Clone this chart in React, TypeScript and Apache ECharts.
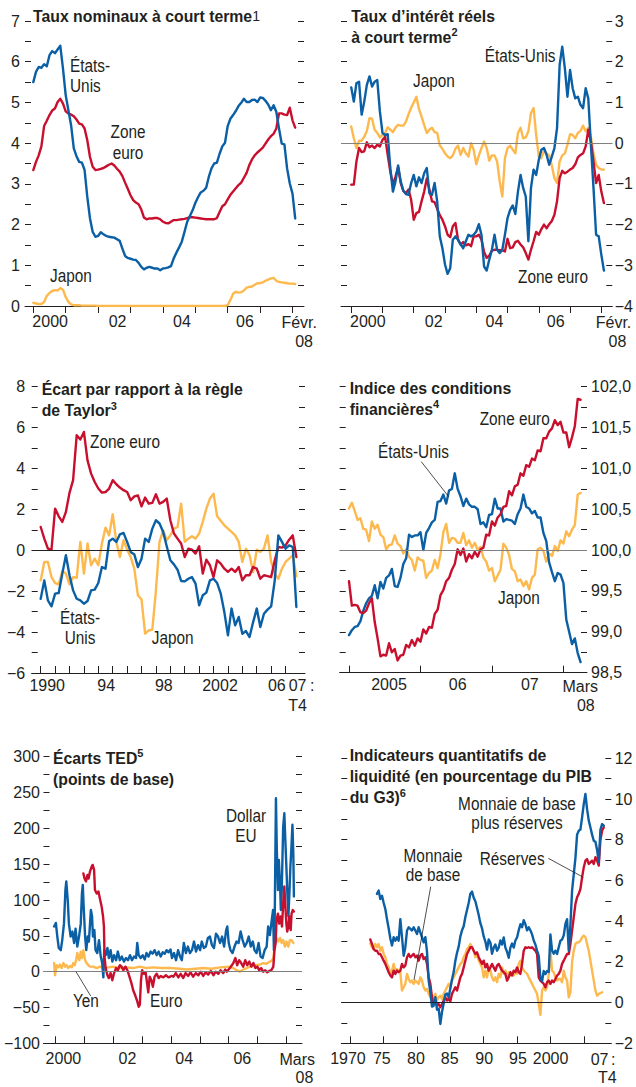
import React, { useEffect, useRef } from "react";
import * as echarts from "echarts";

const INK = "#231f20";
const BLUE = "#0b5fa5";
const RED = "#c8102e";
const ORANGE = "#fdb94e";
const GRAY = "#808080";
const TICK_FONT = "'Liberation Sans', Arial, sans-serif";
const LINE_W = 2.4;

// ---------- Panel 1: nominal short-term rates (monthly from Jan 2000) ----------
const p1Start = 2000;
const p1US = [5.50,5.75,5.87,5.85,5.94,5.89,6.16,6.26,6.21,6.30,6.39,5.83,5.18,4.81,4.44,3.87,3.68,3.54,3.52,3.34,2.68,2.15,1.82,1.70,1.72,1.81,1.76,1.72,1.70,1.69,1.68,1.64,1.60,1.41,1.23,1.18,1.16,1.14,1.13,1.06,0.96,0.90,0.94,0.96,0.94,0.92,0.92,0.88,0.92,0.93,0.95,0.98,1.17,1.31,1.44,1.58,1.82,2.07,2.21,2.35,2.53,2.67,2.79,2.83,2.90,3.17,3.38,3.50,3.52,3.74,3.92,4.01,4.42,4.60,4.69,4.79,4.91,4.99,5.09,5.01,5.01,5.06,5.07,5.01,5.12,5.11,5.04,4.95,4.81,4.93,4.77,4.36,3.99,3.97,3.38,3.01,2.76,2.15];
const p1Euro = [3.34,3.54,3.70,3.92,4.42,4.55,4.69,4.80,4.85,5.01,5.09,4.97,4.78,4.73,4.70,4.66,4.58,4.48,4.46,4.36,4.07,3.66,3.42,3.34,3.35,3.37,3.39,3.43,3.47,3.50,3.45,3.37,3.30,3.19,3.03,2.88,2.72,2.60,2.54,2.50,2.37,2.17,2.13,2.15,2.15,2.16,2.16,2.13,2.07,2.04,2.03,2.07,2.11,2.11,2.12,2.13,2.14,2.16,2.18,2.18,2.17,2.16,2.15,2.14,2.13,2.13,2.13,2.13,2.16,2.31,2.45,2.50,2.62,2.73,2.81,2.89,2.97,3.03,3.15,3.27,3.46,3.60,3.70,3.77,3.83,3.89,3.99,4.09,4.17,4.23,4.36,4.73,4.73,4.70,4.69,4.87,4.56,4.38];
const p1Japan = [0.08,0.06,0.05,0.05,0.10,0.25,0.32,0.37,0.39,0.38,0.44,0.40,0.22,0.10,0.04,0.02,0.02,0.02,0.01,0.01,0.01,0.01,0.01,0.01,0,0,0,0,0,0,0,0,0,0,0,0,0,0,0,0,0,0,0,0,0,0,0,0,0,0,0,0,0,0,0,0,0,0,0,0,0,0,0,0,0,0,0,0,0,0,0,0,0.02,0.15,0.30,0.35,0.33,0.34,0.38,0.45,0.47,0.48,0.52,0.56,0.56,0.58,0.62,0.65,0.68,0.69,0.62,0.59,0.58,0.57,0.56,0.55,0.55,0.54];

// ---------- Panel 2: real short-term rates (monthly from Jan 2000) ----------
const p2Start = 2000;
const p2US = [1.37,1.02,1.47,1.51,0.70,1.02,1.43,1.64,1.39,1.51,1.55,0.78,0.25,0.20,0.22,-0.61,-1.19,-0.94,-0.55,-0.94,-1.17,-1.25,-1.27,-0.98,-0.78,-1.06,-0.84,-0.98,-0.74,-0.61,-1.23,-1.27,-0.98,-1.43,-2.29,-2.58,-2.98,-3.21,-3.07,-2.37,-2.29,-2.37,-2.49,-2.58,-2.41,-2.25,-2.29,-2.25,-2.17,-1.99,-2.25,-3.03,-3.13,-2.86,-2.62,-2.25,-2.62,-2.70,-2.62,-2.25,-1.84,-1.64,-1.53,-1.74,-1.19,-0.78,-1.10,-1.31,-2.41,-1.10,-0.65,-0.78,-0.41,-0.16,-0.12,-0.29,-0.53,-0.33,-0.12,0.37,1.92,2.37,1.84,1.14,1.80,1.35,1.10,1.14,0.94,0.86,1.35,1.10,-0.04,-1.10,-2.25,-2.29,-2.74,-3.13];
const p2Euro = [-1.02,-1.02,-0.45,-0.12,-0.22,-0.20,0.02,-0.10,-0.06,-0.12,-0.04,-0.08,0.08,0.16,-0.29,-0.70,-1.01,-0.82,-0.59,-0.98,-1.17,-1.23,-1.14,-1.39,-1.88,-1.72,-1.69,-1.43,-1.19,-0.87,-1.14,-1.43,-1.45,-1.61,-1.77,-1.88,-2.04,-2.25,-2.31,-2.04,-1.96,-2.37,-2.49,-2.43,-2.51,-2.48,-2.53,-2.29,-2.29,-2.25,-2.37,-2.67,-2.82,-2.76,-2.64,-2.62,-2.62,-2.63,-2.63,-2.66,-2.35,-2.58,-2.56,-2.43,-2.40,-2.49,-2.56,-2.70,-2.86,-2.62,-2.41,-2.18,-2.25,-2.11,-2.00,-2.09,-1.99,-1.91,-1.76,-1.43,-0.86,-0.68,-0.74,-0.70,-0.65,-0.61,-0.52,-0.35,-0.29,-0.25,-0.08,0.33,0.04,-0.45,-0.98,-0.78,-1.19,-1.47];
const p2Japan = [0.41,0.12,-0.12,0.06,0.06,0.16,0.30,0.61,0.60,0.33,0.25,0.14,0.20,0.25,0.39,0.33,0.27,0.38,0.45,0.43,0.43,0.53,0.71,0.87,1.00,1.14,0.84,0.65,0.45,0.25,0.33,0.38,0.27,0.25,-0.06,-0.14,-0.25,-0.33,-0.37,-0.30,-0.14,-0.06,-0.29,-0.12,-0.25,-0.33,0.00,-0.16,-0.52,-0.30,-0.12,0.04,-0.12,-0.43,-0.30,-0.30,-0.45,-0.94,-1.31,-0.37,-0.12,-0.06,-0.16,-0.25,0.25,0.38,0.12,0.14,0.29,0.74,0.86,0.20,-0.33,-0.37,-0.19,-0.25,-0.30,-0.55,-0.86,-0.98,-0.45,-0.30,-0.25,-0.04,0.22,0.20,0.12,0.25,0.30,0.43,0.29,0.38,0.16,-0.25,-0.53,-0.61,-0.65,-0.65];

// ---------- Panel 3: deviation from Taylor rule (quarterly from 1990 Q1) ----------
const p3Start = 1990;
const p3Euro = [1.14,0.57,0.08,0.03,2.04,1.66,1.39,1.88,2.81,3.43,5.63,5.42,5.79,4.40,3.75,3.34,3.02,2.82,2.85,3.02,3.43,3.23,3.07,2.94,2.85,2.45,2.64,2.68,2.15,2.58,2.28,2.32,2.74,2.28,2.37,2.53,1.47,0.82,0.57,0.33,-0.33,0.08,0.03,-0.16,0.20,-1.14,-0.46,-0.73,-1.31,-0.49,-0.65,-0.90,-1.06,-0.90,-1.06,-0.82,-1.47,-1.22,-1.22,-0.82,-0.90,-1.39,-1.22,-1.26,-1.31,-0.49,0.16,0.13,0.24,0.52,0.73,-0.33];
const p3US = [-2.37,-1.47,-2.45,-2.74,-2.12,-2.09,-1.14,-0.24,-1.22,-1.96,-2.37,-2.45,-2.61,-2.48,-1.96,-1.92,-1.60,-0.82,-0.90,0.44,0.57,0.41,0.78,0.85,0.41,-0.08,-0.20,-0.82,-0.41,0.57,0.41,1.06,1.47,1.31,0.90,0.20,-0.49,-0.69,-0.95,-1.50,-1.52,-1.39,-1.31,-1.63,-2.69,-2.20,-2.07,-1.47,-1.39,-1.60,-2.12,-3.02,-4.16,-2.85,-3.67,-3.26,-4.08,-3.95,-4.24,-3.51,-2.85,-3.75,-3.10,-2.90,-2.74,-1.47,0.73,0.41,0.08,0.24,0.16,-2.77];
const p3Japan = [-1.47,-0.57,-0.57,-1.31,-1.60,-1.66,-1.01,-1.14,-1.66,-1.31,-1.34,0.41,-1.14,0.33,-0.73,-0.41,-0.73,0.33,1.11,0.73,1.76,0.41,-0.33,0.49,0.03,-0.33,-0.90,-2.20,-2.41,-4.08,-3.92,-3.88,-1.96,0.41,0.98,0.49,0.73,1.06,1.14,2.28,0.41,0.57,0.69,0.57,0.82,1.39,2.04,2.53,2.77,1.66,1.44,1.22,1.06,0.90,0.73,0.41,-0.57,0.08,-0.24,-1.06,0.03,-0.08,0.08,0.73,-0.57,-1.14,-1.39,-0.90,-0.57,-0.41,-0.24,-1.27];

// ---------- Panel 4: financial conditions index (every 0.04 yr from Jan 2005) ----------
const p4Start = 2005;
const p4Step = 0.04;
const p4Euro = [99.62,99.32,99.33,99.32,99.24,99.23,99.26,99.35,99.41,99.12,98.92,98.70,98.72,98.71,98.86,98.75,98.79,98.65,98.71,98.72,98.84,98.81,98.90,98.83,98.92,98.88,99.03,98.98,99.06,99.05,99.22,99.27,99.45,99.51,99.62,99.66,99.76,99.83,100.01,99.94,100.02,99.86,99.95,99.90,99.98,99.92,100.01,100.03,100.19,100.18,100.35,100.30,100.40,100.44,100.53,100.54,100.72,100.67,100.78,100.80,100.94,100.91,101.04,101.02,101.12,101.10,101.22,101.21,101.37,101.37,101.45,101.49,101.59,101.53,101.57,101.44,101.44,101.26,101.38,101.52,101.85,101.84];
const p4US = [98.96,99.02,99.06,99.07,99.13,99.26,99.35,99.41,99.44,99.57,99.41,99.61,99.53,99.66,99.69,99.77,99.56,99.55,99.66,99.83,99.90,100.19,100.16,100.18,100.18,100.22,100.00,100.21,100.27,100.34,100.37,100.59,100.60,100.68,100.57,100.73,100.75,100.94,100.75,100.66,100.54,100.63,100.56,100.53,100.53,100.50,100.32,100.34,100.28,100.43,100.44,100.63,100.51,100.51,100.35,100.38,100.37,100.36,100.32,100.44,100.51,100.68,100.53,100.51,100.45,100.48,100.40,100.40,100.21,100.11,99.85,99.73,99.62,99.72,99.70,99.60,99.15,99.00,98.85,98.92,98.74,98.63];
const p4Japan = [100.51,100.58,100.48,100.37,100.39,100.26,100.25,100.11,100.35,100.26,100.31,100.19,100.16,100.01,100.06,100.07,100.18,100.08,100.05,99.96,100.01,99.92,99.88,99.75,99.91,99.88,99.87,99.66,99.72,99.75,99.88,99.78,99.95,100.22,100.32,100.09,100.15,100.14,100.09,100.09,100.21,100.06,100.12,100.03,100.09,100.00,100.04,99.91,99.86,99.75,99.78,99.62,99.69,99.76,100.08,100.03,99.94,99.77,99.74,99.62,99.64,99.56,99.62,99.52,99.66,99.70,100.01,100.03,99.99,99.86,99.96,99.93,100.05,99.99,100.12,100.08,100.23,100.17,100.25,100.31,100.68,100.70];

// ---------- Panel 5: TED spreads, basis points ([year, value]) ----------
const p5Dollar = [[1999.97,63],[2000.03,68],[2000.08,49],[2000.13,33],[2000.2,30],[2000.25,44],[2000.31,67],[2000.36,114],[2000.39,126],[2000.44,100],[2000.48,67],[2000.54,49],[2000.6,56],[2000.66,40],[2000.71,60],[2000.77,35],[2000.83,49],[2000.89,67],[2000.93,109],[2000.96,121],[2000.99,91],[2001.04,49],[2001.08,30],[2001.13,49],[2001.17,42],[2001.21,67],[2001.24,86],[2001.28,77],[2001.31,49],[2001.36,58],[2001.4,30],[2001.46,26],[2001.52,44],[2001.58,21],[2001.63,12],[2001.67,-8],[2001.7,30],[2001.75,23],[2001.81,33],[2001.86,19],[2001.92,30],[2001.98,14],[2002.04,23],[2002.11,16],[2002.17,28],[2002.24,16],[2002.31,21],[2002.38,14],[2002.45,19],[2002.52,16],[2002.59,23],[2002.66,16],[2002.73,21],[2002.8,19],[2002.84,40],[2002.89,23],[2002.96,19],[2003.03,23],[2003.1,17],[2003.16,26],[2003.23,21],[2003.3,28],[2003.37,25],[2003.44,30],[2003.51,23],[2003.58,28],[2003.65,21],[2003.72,27],[2003.79,25],[2003.85,30],[2003.92,27],[2003.99,31],[2004.04,19],[2004.11,26],[2004.18,16],[2004.25,30],[2004.32,21],[2004.38,16],[2004.45,40],[2004.52,26],[2004.59,35],[2004.66,26],[2004.73,30],[2004.8,42],[2004.87,28],[2004.94,37],[2005.01,30],[2005.07,42],[2005.14,33],[2005.21,35],[2005.28,47],[2005.35,49],[2005.42,37],[2005.49,33],[2005.56,53],[2005.63,49],[2005.7,40],[2005.77,49],[2005.84,35],[2005.91,58],[2005.95,63],[2006.0,40],[2006.06,30],[2006.13,26],[2006.2,35],[2006.27,42],[2006.34,40],[2006.41,56],[2006.48,44],[2006.55,35],[2006.62,40],[2006.69,49],[2006.76,35],[2006.83,42],[2006.89,30],[2006.96,26],[2007.03,40],[2007.1,21],[2007.17,19],[2007.24,30],[2007.31,35],[2007.36,63],[2007.42,51],[2007.48,70],[2007.53,86],[2007.56,30],[2007.59,81],[2007.63,242],[2007.66,170],[2007.7,114],[2007.73,156],[2007.77,123],[2007.8,86],[2007.83,114],[2007.88,202],[2007.92,221],[2007.95,188],[2007.99,147],[2008.02,114],[2008.06,77],[2008.09,105],[2008.13,147],[2008.16,170],[2008.2,205],[2008.23,165],[2008.25,105]];
const p5Euro = [[2000.98,137],[2001.02,130],[2001.07,126],[2001.12,135],[2001.16,130],[2001.21,140],[2001.27,147],[2001.3,149],[2001.35,142],[2001.38,114],[2001.44,109],[2001.5,112],[2001.55,102],[2001.61,91],[2001.66,77],[2001.69,63],[2001.71,21],[2001.75,5],[2001.81,-5],[2001.86,-9],[2001.92,-2],[2001.98,-12],[2002.04,-2],[2002.11,5],[2002.17,2],[2002.24,9],[2002.3,7],[2002.36,2],[2002.43,7],[2002.5,2],[2002.57,-7],[2002.64,-16],[2002.7,-26],[2002.77,-33],[2002.83,-40],[2002.89,-49],[2002.93,-46],[2002.97,-12],[2003.01,2],[2003.07,-3],[2003.13,-1],[2003.18,-16],[2003.22,-29],[2003.27,-7],[2003.33,-12],[2003.38,-21],[2003.44,-7],[2003.51,-3],[2003.58,-9],[2003.65,-6],[2003.74,-8],[2003.83,-5],[2003.92,-8],[2004.03,-6],[2004.09,-7],[2004.17,-2],[2004.26,-8],[2004.34,-3],[2004.43,-9],[2004.51,-2],[2004.6,-6],[2004.68,-1],[2004.77,-7],[2004.86,-2],[2004.95,-5],[2005.03,0],[2005.12,-6],[2005.2,-1],[2005.29,-4],[2005.38,1],[2005.47,-5],[2005.55,0],[2005.64,-3],[2005.72,2],[2005.81,-2],[2005.88,3],[2005.93,0],[2006.04,5],[2006.16,12],[2006.23,19],[2006.29,9],[2006.36,16],[2006.43,12],[2006.5,7],[2006.57,16],[2006.64,9],[2006.71,14],[2006.78,7],[2006.85,12],[2006.92,5],[2006.99,7],[2007.05,2],[2007.12,5],[2007.19,0],[2007.26,2],[2007.33,-1],[2007.4,1],[2007.47,2],[2007.54,7],[2007.58,30],[2007.62,40],[2007.65,72],[2007.7,81],[2007.74,67],[2007.79,77],[2007.84,63],[2007.88,95],[2007.92,119],[2007.95,95],[2007.99,67],[2008.02,56],[2008.06,63],[2008.09,77],[2008.14,58],[2008.17,81],[2008.21,86],[2008.25,84]];
const p5Yen = [[1999.97,12],[2000.0,-5],[2000.06,9],[2000.12,6],[2000.17,10],[2000.23,5],[2000.29,12],[2000.35,7],[2000.4,9],[2000.46,5],[2000.52,8],[2000.58,6],[2000.63,12],[2000.68,9],[2000.73,16],[2000.77,26],[2000.84,16],[2000.89,28],[2000.93,19],[2000.98,30],[2001.04,16],[2001.09,12],[2001.15,9],[2001.21,7],[2001.32,7],[2001.44,5],[2001.55,7],[2001.67,5],[2001.85,6],[2002.01,7],[2002.25,5],[2002.47,6],[2002.7,5],[2002.93,7],[2003.16,5],[2003.39,6],[2003.7,5],[2003.98,5],[2004.3,4],[2004.55,3],[2004.85,4],[2005.12,5],[2005.4,4],[2005.7,6],[2006.04,7],[2006.15,5],[2006.27,2],[2006.38,0],[2006.5,3],[2006.62,5],[2006.73,7],[2006.85,8],[2006.96,9],[2007.08,10],[2007.19,12],[2007.3,11],[2007.42,14],[2007.5,16],[2007.54,19],[2007.6,40],[2007.65,47],[2007.71,42],[2007.77,47],[2007.83,40],[2007.88,44],[2007.94,35],[2007.99,42],[2008.06,35],[2008.11,44],[2008.17,44],[2008.23,40]];

// ---------- Panel 6: liquidity indicators, % of G3 GDP (quarterly) ----------
const p6BaseStart = 1973;
const p6Base = [2.90,2.72,2.63,2.88,2.72,2.88,2.55,2.72,2.39,2.23,1.90,1.73,1.41,1.57,1.90,1.57,1.65,1.57,1.50,0.59,0.75,0.92,1.41,1.16,1.00,1.08,0.92,1.08,1.00,0.92,1.24,1.08,0.75,0.59,0.67,0.43,0.26,0.18,0.26,0.43,0.10,0.26,0.34,0.18,0.43,0.59,0.75,0.92,0.75,1.08,1.24,1.41,1.57,1.73,1.90,1.98,2.23,2.39,2.63,2.72,2.88,2.72,2.55,2.23,2.39,2.06,1.90,1.73,1.24,1.57,1.24,1.73,1.57,1.24,1.08,1.24,1.00,1.41,1.24,1.73,1.41,1.57,1.24,1.49,1.33,1.41,1.33,1.57,1.41,1.90,2.06,1.73,1.57,1.49,1.41,1.24,1.08,0.92,0.75,0.59,0.43,-0.07,-0.60,0.59,0.75,0.59,0.75,1.41,2.60,1.57,1.49,1.24,1.08,1.16,1.16,1.00,1.57,1.24,1.08,0.26,0.50,2.00,2.55,2.88,2.96,2.96,3.04,3.21,3.29,3.21,2.88,2.55,2.06,1.57,1.08,0.59,0.34,0.43,0.46,0.51];
const p6ResStart = 1973;
const p6Res = [3.10,2.88,2.63,2.55,2.55,2.39,2.39,2.23,2.06,1.90,1.70,1.49,1.33,1.24,1.57,1.41,1.57,1.49,1.57,1.90,1.73,1.82,2.23,2.39,2.23,2.31,2.39,2.23,2.31,2.06,2.31,2.39,2.14,2.23,1.90,1.24,0.92,0.26,-0.07,0.10,-0.15,-0.07,-0.23,-0.07,0.10,0.26,0.10,0.18,0.07,0.43,0.59,0.75,0.59,0.92,1.24,1.41,1.73,2.06,2.39,2.55,2.72,2.72,2.55,2.39,2.47,2.23,2.06,1.90,2.06,1.73,1.90,1.57,1.73,1.90,1.73,1.57,1.82,1.90,1.73,1.57,1.49,1.41,1.08,1.24,1.49,1.33,1.57,1.49,1.73,1.49,1.41,1.90,2.55,2.72,2.68,2.72,2.68,2.72,2.63,2.55,2.39,1.24,1.08,1.00,0.92,0.75,1.00,1.08,0.92,1.08,1.00,1.16,1.33,1.41,1.57,1.90,2.06,2.23,2.39,2.39,2.88,3.54,4.19,4.84,5.17,5.34,5.58,6.15,6.64,6.97,7.05,6.81,6.89,6.97,6.81,7.14,6.97,6.73,8.00,8.44,8.61];
const p6TotalStart = 1974;
const p6Total = [5.34,5.50,5.09,5.25,4.90,4.60,4.10,3.65,3.15,2.80,3.21,3.04,3.21,3.04,4.10,3.21,2.30,2.72,3.54,3.70,3.62,3.54,3.70,3.54,3.37,3.70,3.45,3.21,2.96,3.21,2.50,1.08,0.50,-0.20,-0.15,0.26,-0.35,-0.30,-1.05,-0.45,-0.05,0.40,0.45,0.26,0.70,1.15,1.50,2.06,2.45,2.75,3.25,3.55,3.75,4.20,4.55,4.90,5.35,5.45,5.15,4.98,4.65,4.30,3.90,3.65,3.25,3.00,2.60,3.10,2.95,2.40,2.70,2.85,2.55,2.70,3.05,2.85,3.20,2.70,2.50,2.20,2.70,2.90,2.70,3.05,3.20,3.55,3.85,3.70,4.05,3.85,3.55,3.70,3.55,3.35,3.05,2.85,2.55,2.30,1.20,1.05,1.55,1.40,1.55,1.50,3.35,2.55,2.40,2.55,2.39,2.72,3.04,3.10,3.30,3.86,4.10,2.55,3.80,5.50,6.30,7.10,8.25,8.44,8.50,9.10,9.75,10.25,9.50,8.94,8.60,8.25,7.95,7.90,7.50,6.90,8.50,8.77,8.69];

// ---------- Axis ticks and labels ----------
const p1Ticks = [2000,2001,2002,2003,2004,2005,2006,2007,2008];
const p1LabelPos = [2000.52,2002.6,2004.59,2006.53];
const p1LabelText = ["2000","02","04","06"];
const p2Ticks = [2000,2001,2002,2003,2004,2005,2006,2007,2008];
const p2LabelPos = [2000.53,2002.64,2004.58,2006.54];
const p2LabelText = ["2000","02","04","06"];
const p3Ticks = [1990,1991,1992,1993,1994,1995,1996,1997,1998,1999,2000,2001,2002,2003,2004,2005,2006,2007];
const p3LabelPos = [1990.45,1994.55,1998.55,2002.45,2006.39];
const p3LabelText = ["1990","94","98","2002","06"];
const p4Ticks = [2005,2006,2007,2008];
const p4LabelPos = [2005.56,2006.52,2007.53];
const p4LabelText = ["2005","06","07"];
const p5Ticks = [2000,2001,2002,2003,2004,2005,2006,2007,2008];
const p5LabelPos = [2000.29,2002.5,2004.46,2006.47];
const p5LabelText = ["2000","02","04","06"];
const p6Ticks = [1970,1975,1980,1985,1990,1995,2000,2005];
const p6LabelPos = [1969.65,1974.72,1979.85,1984.9,1990.07,1995.14,2000.02];
const p6LabelText = ["1970","75","80","85","90","95","2000"];

// ---------- helpers ----------
const stepped = (start: number, step: number, vals: number[]) => vals.map((v, i) => [start + i * step, v]);
const fmtNum = (v: number) => (v < 0 ? "\u2212" + Math.abs(v) : String(v));
const isMult = (v: number, m: number) => Math.abs(v / m - Math.round(v / m)) < 1e-6;

function xAx(grid: number, min: number, max: number, ticks: number[], pos: number[], text: string[], inside: boolean, margin: number) {
  return {
    type: "value", gridIndex: grid, position: "bottom", min, max,
    axisLine: { show: true, onZero: false, lineStyle: { color: INK, width: 1 } },
    axisTick: { show: true, inside, length: 7, customValues: ticks, lineStyle: { color: INK, width: 1 } },
    axisLabel: {
      show: true, customValues: pos, margin,
      formatter: (v: number) => { const k = pos.findIndex((p) => Math.abs(p - v) < 1e-6); return k >= 0 ? text[k] : ""; },
      fontFamily: TICK_FONT, fontSize: 16, color: INK,
    },
    splitLine: { show: false },
  };
}

function yAx(grid: number, position: string, min: number, max: number, interval: number, fmt: any, margin: number) {
  return {
    type: "value", gridIndex: grid, position, min, max, interval,
    axisLine: { show: false },
    axisTick: { show: true, inside: true, length: 6, lineStyle: { color: INK, width: 1 } },
    axisLabel: fmt ? { show: true, formatter: fmt, margin, fontFamily: TICK_FONT, fontSize: 16, lineHeight: 14, color: INK } : { show: false },
    splitLine: { show: false },
  };
}

function line(data: any[], axis: number, yAxis: number, color: string, z: number, ref?: { value: number; color: string }) {
  const s: any = {
    type: "line", data, xAxisIndex: axis, yAxisIndex: yAxis, showSymbol: false, symbol: "none", silent: true, z,
    lineStyle: { color, width: LINE_W, join: "round", cap: "round" }, itemStyle: { color },
    emphasis: { disabled: true }, animation: false,
  };
  if (ref) {
    s.markLine = {
      silent: true, symbol: ["none", "none"], label: { show: false }, animation: false,
      emphasis: { disabled: true },
      lineStyle: { color: ref.color, width: 1.2, type: "solid" },
      data: [{ yAxis: ref.value }],
    };
  }
  return s;
}

const titleRich = {
  b: { fontFamily: TICK_FONT, fontWeight: "bold", fontSize: 15.8, lineHeight: 21, fill: INK, color: INK },
  s: { fontFamily: TICK_FONT, fontWeight: "bold", fontSize: 11, lineHeight: 16, verticalAlign: "top", fill: INK, color: INK },
  n: { fontFamily: TICK_FONT, fontWeight: "normal", fontSize: 14, lineHeight: 21, fill: INK, color: INK },
};

function title(x: number, y: number, text: string, va = "top") {
  return {
    type: "text", x, y, z: 100, silent: true,
    style: { text, rich: titleRich, fill: INK, align: "left", textAlign: "left", verticalAlign: va, textVerticalAlign: va },
  };
}

// annotation text: regular sans, horizontally condensed to mimic the narrow face
function txt(x: number, y: number, text: string, o: any = {}) {
  const align = o.align || "left";
  const va = o.va || "middle";
  const narrow = !o.tick;
  return {
    type: "text", x, y, z: 100, silent: true,
    scaleX: narrow ? 0.83 : 1,
    style: {
      text, fill: INK, fontFamily: TICK_FONT, fontSize: o.size || (narrow ? 18.5 : 16), fontWeight: "normal",
      align, textAlign: align, verticalAlign: va, textVerticalAlign: va, lineHeight: o.lh,
    },
  };
}

function seg(x1: number, y1: number, x2: number, y2: number) {
  return { type: "line", z: 100, silent: true, shape: { x1, y1, x2, y2 }, style: { stroke: INK, lineWidth: 0.8 } };
}

function buildOption() {
  const grids = [
    { left: 25, top: 21, width: 279, height: 285 },
    { left: 341, top: 21, width: 273, height: 285 },
    { left: 31.7, top: 386.7, width: 273.3, height: 286.3 },
    { left: 339.7, top: 386.7, width: 247.3, height: 286 },
    { left: 43.5, top: 756.7, width: 258.5, height: 286.6 },
    { left: 341.3, top: 758.3, width: 270, height: 285 },
  ].map((g) => ({ ...g, containLabel: false }));

  const xAxes = [
    xAx(0, 1999.744, 2008.355, p1Ticks, p1LabelPos, p1LabelText, false, 7.5),
    xAx(1, 1999.673, 2008.35, p2Ticks, p2LabelPos, p2LabelText, false, 7.5),
    xAx(2, 1989.375, 2008.35, p3Ticks, p3LabelPos, p3LabelText, true, 4),
    xAx(3, 2004.87, 2008.33, p4Ticks, p4LabelPos, p4LabelText, true, 4),
    xAx(4, 1999.603, 2008.53, p5Ticks, p5LabelPos, p5LabelText, true, 7.5),
    xAx(5, 1968.65, 2009.13, p6Ticks, p6LabelPos, p6LabelText, true, 7.5),
  ];

  const intFmt = (v: number) => (isMult(v, 1) ? fmtNum(v) : "");
  const evenFmt = (v: number) => (isMult(v, 2) ? fmtNum(v) : "");
  const fciFmt = (v: number) => (isMult(v, 0.5) ? v.toFixed(1).replace(".", ",") : "");
  const tedFmt = (v: number) => (isMult(v, 50) ? fmtNum(v) : "");

  const yAxes = [
    yAx(0, "left", 0, 7, 0.5, intFmt, 5),
    yAx(0, "right", 0, 7, 0.5, null, 0),
    yAx(1, "left", -4, 3, 0.5, null, 0),
    yAx(1, "right", -4, 3, 0.5, intFmt, 2.5),
    yAx(2, "left", -6, 8, 1, evenFmt, 6.5),
    yAx(2, "right", -6, 8, 1, null, 0),
    yAx(3, "left", 98.5, 102, 0.25, null, 0),
    yAx(3, "right", 98.5, 102, 0.25, fciFmt, 4),
    yAx(4, "left", -100, 300, 25, tedFmt, 3.5),
    yAx(4, "right", -100, 300, 25, null, 0),
    yAx(5, "left", -2, 12, 1, null, 0),
    yAx(5, "right", -2, 12, 1, evenFmt, 3.4),
  ];

  const series = [
    line(stepped(p1Start, 1 / 12, p1Japan), 0, 0, ORANGE, 2),
    line(stepped(p1Start, 1 / 12, p1Euro), 0, 0, RED, 3),
    line(stepped(p1Start, 1 / 12, p1US), 0, 0, BLUE, 4),

    line(stepped(p2Start, 1 / 12, p2Japan), 1, 2, ORANGE, 2, { value: 0, color: GRAY }),
    line(stepped(p2Start, 1 / 12, p2Euro), 1, 2, RED, 3),
    line(stepped(p2Start, 1 / 12, p2US), 1, 2, BLUE, 4),

    line(stepped(p3Start, 0.25, p3Japan), 2, 4, ORANGE, 2, { value: 0, color: INK }),
    line(stepped(p3Start, 0.25, p3Euro), 2, 4, RED, 3),
    line(stepped(p3Start, 0.25, p3US), 2, 4, BLUE, 4),

    line(stepped(p4Start, p4Step, p4Japan), 3, 6, ORANGE, 2, { value: 100, color: GRAY }),
    line(stepped(p4Start, p4Step, p4US), 3, 6, BLUE, 3),
    line(stepped(p4Start, p4Step, p4Euro), 3, 6, RED, 4),

    line(p5Yen, 4, 8, ORANGE, 2, { value: 0, color: GRAY }),
    line(p5Dollar, 4, 8, BLUE, 3),
    line(p5Euro, 4, 8, RED, 4),

    line(stepped(p6BaseStart, 0.25, p6Base), 5, 10, ORANGE, 2, { value: 0, color: INK }),
    line(stepped(p6ResStart, 0.25, p6Res), 5, 10, RED, 3),
    line(stepped(p6TotalStart, 0.25, p6Total), 5, 10, BLUE, 4),
  ];

  const T = { tick: true, lh: 14 };
  const graphics = [
    // titles
    title(33, 16, "{b|Taux nominaux à court terme}{n|1}", "middle"),
    title(351.3, 5.5, "{b|Taux d\u2019intérêt réels}\n{b|à court terme}{s|2}"),
    title(41.7, 379.2, "{b|Écart par rapport à la règle}\n{b|de Taylor}{s|3}"),
    title(349.7, 377.8, "{b|Indice des conditions}\n{b|financières}{s|4}"),
    title(53, 747.8, "{b|Écarts TED}{s|5}\n{b|(points de base)}"),
    title(349.7, 745.2, "{b|Indicateurs quantitatifs de}\n{b|liquidité (en pourcentage du PIB}\n{b|du G3)}{s|6}"),

    // panel 1 annotations
    txt(70, 56, "États-\nUnis", { va: "top", lh: 20 }),
    txt(128, 121.5, "Zone\neuro", { align: "center", va: "top", lh: 21 }),
    txt(50, 276, "Japon"),
    // panel 2
    txt(484.7, 56, "États-Unis"),
    txt(413, 81, "Japon"),
    txt(518, 277, "Zone euro"),
    // panel 3
    txt(90, 442, "Zone euro"),
    txt(80, 608, "États-\nUnis", { align: "center", va: "top", lh: 20 }),
    txt(151.7, 638, "Japon"),
    // panel 4
    txt(479.7, 419, "Zone euro"),
    txt(378, 452, "États-Unis"),
    seg(421.3, 461.7, 448.7, 496.7),
    txt(498, 598, "Japon"),
    // panel 5
    txt(246, 806, "Dollar\nEU", { align: "center", va: "top", lh: 20 }),
    txt(73, 1001, "Yen"),
    seg(76, 971.7, 90.7, 996),
    txt(150, 1001, "Euro"),
    // panel 6
    txt(517, 795, "Monnaie de base\nplus réserves", { align: "center", va: "top", lh: 19 }),
    txt(479.7, 859, "Réserves"),
    seg(548.3, 858.3, 583.3, 877.3),
    txt(433, 845.5, "Monnaie\nde base", { align: "center", va: "top", lh: 20 }),
    seg(430.7, 886.7, 414, 980),

    // end-of-axis labels
    txt(317, 322, "Févr.", { ...T, align: "right" }),
    txt(313, 341, "08", { ...T, align: "right" }),
    txt(631.3, 322.5, "Févr.", { ...T, align: "right" }),
    txt(626.3, 341.5, "08", { ...T, align: "right" }),
    txt(306.5, 685, "07", { ...T, align: "right" }),
    txt(310, 685, ":", { ...T }),
    txt(288.3, 705, "T4", { ...T }),
    txt(598, 686, "Mars", { ...T, align: "right" }),
    txt(594.7, 705, "08", { ...T, align: "right" }),
    txt(315, 1059, "Mars", { ...T, align: "right" }),
    txt(313.3, 1077, "08", { ...T, align: "right" }),
    txt(608.5, 1059, "07", { ...T, align: "right" }),
    txt(611, 1059, ":", { ...T }),
    txt(598, 1077, "T4", { ...T }),
  ];

  return {
    animation: false,
    backgroundColor: "#ffffff",
    grid: grids,
    xAxis: xAxes,
    yAxis: yAxes,
    series,
    graphic: { elements: graphics },
  };
}

export default function App() {
  const ref = useRef<HTMLDivElement>(null);
  useEffect(() => {
    if (!ref.current) return;
    const chart = echarts.init(ref.current, null, { renderer: "svg" });
    chart.setOption(buildOption() as any);
    return () => chart.dispose();
  }, []);
  return (
    <div
      ref={ref}
      style={{ position: "absolute", left: 0, top: 0, width: 636, height: 1087, background: "#ffffff" }}
    />
  );
}
